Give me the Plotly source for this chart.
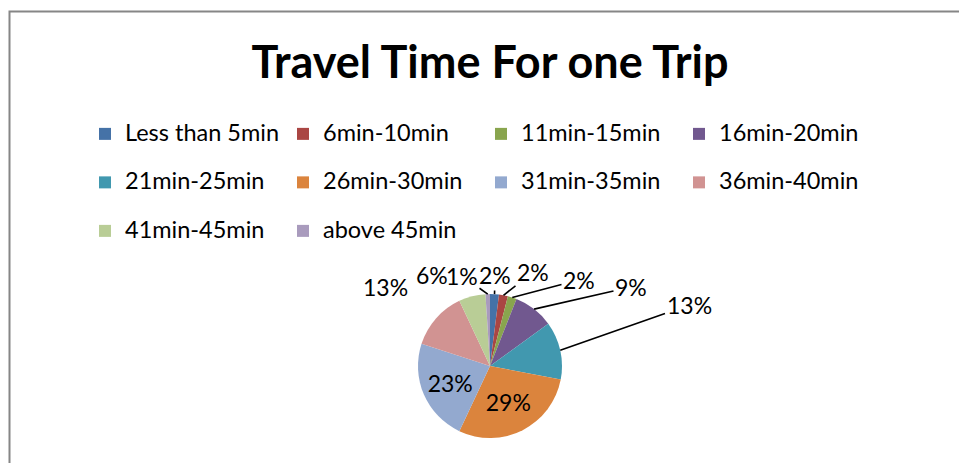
import math
import plotly.graph_objects as go

categories = ["Less than 5min", "6min-10min", "11min-15min", "16min-20min",
              "21min-25min", "26min-30min", "31min-35min", "36min-40min",
              "41min-45min", "above 45min"]
shares = [2, 2, 2, 9, 13, 29, 23, 13, 6, 1]
colors = ["#4572A7", "#AA4643", "#89A54E", "#71588F", "#4198AF",
          "#DB843D", "#93A9CF", "#D19392", "#B9CD96", "#A99BBD"]
inside = [False, False, False, False, False, True, True, False, False, False]
# layout: pixel positions of the outside labels, and whether a leader line is drawn
label_px = [(495, 275), (533, 272), (579, 280), (631, 287), (689, 305),
            None, None, (385, 287), (432, 275), (462, 276)]
leader = [True, True, True, True, True, False, False, False, False, True]

FONT = "Lato"
W, H = 959, 463
CX, CY, R = 490, 366, 72

legend_labels = [f"<span style='font-size:23.5px'>{c}</span><br> " for c in categories]

fig = go.Figure(go.Pie(
    labels=legend_labels,
    values=shares,
    sort=False,
    direction="clockwise",
    rotation=0,
    marker=dict(colors=colors, line=dict(width=0)),
    text=[f"{v}%" for v in shares],
    textinfo="text",
    textposition=["inside" if s else "none" for s in inside],
    textfont=dict(family=FONT, size=23, color="black"),
    insidetextorientation="horizontal",
    automargin=False,
    domain=dict(x=[(CX - 150) / W, (CX + 150) / W],
                y=[(H - CY - R) / H, (H - CY + R) / H]),
    hoverinfo="label+percent",
    showlegend=True,
))

# leader-line annotations for the outside labels, anchored at each slice's mid-angle on the rim
total = sum(shares)
cum = 0
annotations = []
for v, pos, ln, ins in zip(shares, label_px, leader, inside):
    mid = (cum + v / 2) / total * 2 * math.pi
    cum += v
    if ins:
        continue
    px = CX + R * math.sin(mid)
    py = CY - R * math.cos(mid)
    if ln:
        annotations.append(dict(
            x=px / W, y=1 - py / H, xref="paper", yref="paper",
            ax=pos[0] - px, ay=pos[1] - py, axref="pixel", ayref="pixel",
            text=f"{v}%", showarrow=True, arrowhead=0, arrowwidth=1.6,
            arrowcolor="black", standoff=0,
            font=dict(family=FONT, size=23, color="black")))
    else:
        annotations.append(dict(
            x=pos[0] / W, y=1 - pos[1] / H, xref="paper", yref="paper",
            xanchor="center", yanchor="middle",
            text=f"{v}%", showarrow=False,
            font=dict(family=FONT, size=23, color="black")))

fig.update_layout(
    width=W, height=H,
    margin=dict(l=0, r=0, t=0, b=0),
    paper_bgcolor="white",
    plot_bgcolor="white",
    font=dict(family=FONT, color="black"),
    title=dict(text="<b>Travel Time For one Trip</b>",
               x=490 / W, xanchor="center", xref="paper",
               y=1 - 62 / H, yanchor="middle", yref="container",
               font=dict(family=FONT, size=45, color="black")),
    legend=dict(orientation="h", x=85 / W, xanchor="left",
                y=1 - 116 / H, yanchor="top",
                entrywidth=153, entrywidthmode="pixels",
                valign="top", traceorder="normal",
                bgcolor="rgba(0,0,0,0)",
                font=dict(family=FONT, size=17.5, color="black")),
    annotations=annotations,
    shapes=[dict(type="rect", xref="paper", yref="paper",
                 x0=9.5 / W, x1=1.05, y0=-0.05, y1=1 - 11.5 / H,
                 line=dict(color="#868686", width=2), fillcolor="rgba(0,0,0,0)")],
)

fig.write_html("out.html")
